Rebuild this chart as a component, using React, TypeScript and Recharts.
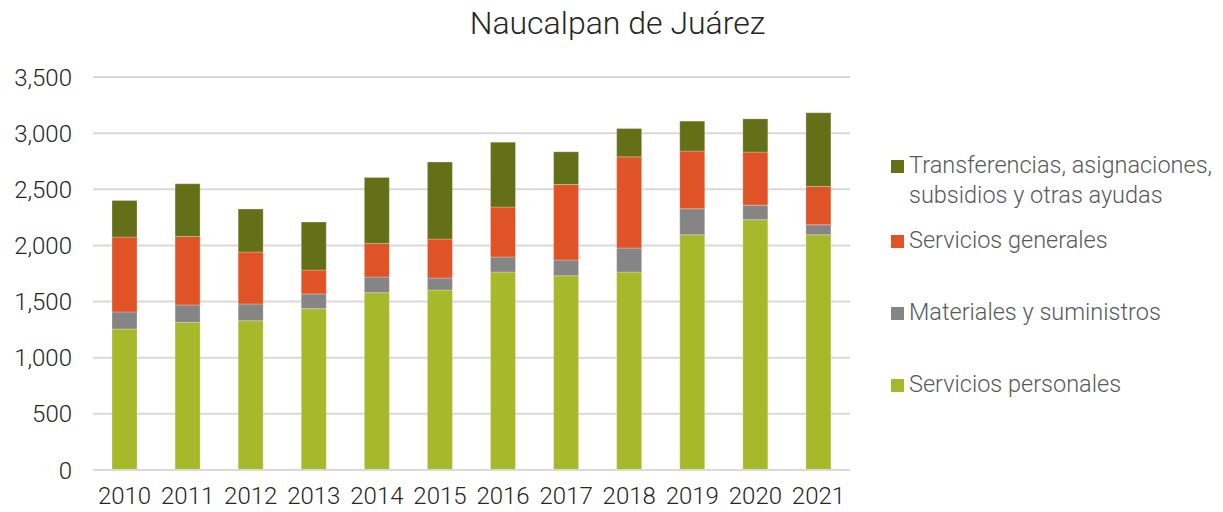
import { BarChart, Bar, XAxis, YAxis, CartesianGrid } from "recharts";

const years = ["2010", "2011", "2012", "2013", "2014", "2015", "2016", "2017", "2018", "2019", "2020", "2021"];
const serviciosPersonales = [1256, 1315, 1330, 1437, 1579, 1603, 1763, 1730, 1763, 2095, 2229, 2095];
const materiales = [152, 155, 149, 131, 140, 107, 134, 140, 214, 232, 130, 89];
const serviciosGenerales = [667, 610, 462, 213, 299, 347, 445, 673, 812, 513, 472, 341];
const transferencias = [325, 469, 383, 427, 587, 685, 578, 291, 252, 267, 296, 656];
const yTicks = [0, 500, 1000, 1500, 2000, 2500, 3000, 3500];

const SERIES = [
  { key: "sp", name: "Servicios personales", color: "#a7b82a" },
  { key: "ms", name: "Materiales y suministros", color: "#858585" },
  { key: "sg", name: "Servicios generales", color: "#e05326" },
  { key: "tr", name: "Transferencias, asignaciones, subsidios y otras ayudas", color: "#647017" },
];

const data = years.map((year, i) => ({
  year,
  sp: serviciosPersonales[i],
  ms: materiales[i],
  sg: serviciosGenerales[i],
  tr: transferencias[i],
}));

const FONT = "Roboto, 'Liberation Sans', Arial, sans-serif";

// legend entries listed top-down in reverse stacking order
const legendTops = [150, 225, 297, 369];

const LegendBox = () => {
  const items = [...SERIES].reverse();
  return (
    <div style={{ position: "absolute", left: 891, top: 0, width: 330, height: 512 }}>
      {items.map((s, i) => (
        <div
          key={s.key}
          style={{
            position: "absolute",
            left: 0,
            top: legendTops[i],
            display: "flex",
            alignItems: "flex-start",
            width: 332,
          }}
        >
          <div style={{ width: 13, height: 13, background: s.color, marginTop: 10, marginRight: 5, flexShrink: 0 }} />
          <span style={{ fontSize: 23.5, lineHeight: "30px", color: "#595959", fontFamily: FONT, fontWeight: 300, maxWidth: 314 }}>
            {s.name}
          </span>
        </div>
      ))}
    </div>
  );
};

export default function App() {
  return (
    <div style={{ position: "absolute", left: 0, top: 0, width: 1223, height: 512, background: "#fff" }}>
      <div
        style={{
          position: "absolute",
          left: 6,
          width: 1223,
          top: 4,
          textAlign: "center",
          fontFamily: FONT,
          fontWeight: 300,
          fontSize: 32,
          color: "#262626",
        }}
      >
        Naucalpan de Juárez
      </div>
      <BarChart
        width={1223}
        height={512}
        data={data}
        margin={{ top: 77, right: 373, bottom: 9, left: 0 }}
        barSize={25}
      >
        <CartesianGrid vertical={false} stroke="#d9d9d9" strokeWidth={2} />
        <XAxis
          dataKey="year"
          height={33}
          tickLine={false}
          axisLine={{ stroke: "#d9d9d9", strokeWidth: 2 }}
          tick={{ fontSize: 24, fill: "#262626", fontFamily: FONT, fontWeight: 300 }}
          tickMargin={11}
          interval={0}
        />
        <YAxis
          width={93}
          domain={[0, 3500]}
          ticks={yTicks}
          tickLine={false}
          axisLine={false}
          tickMargin={15}
          tickFormatter={(v: number) => v.toLocaleString("en-US")}
          tick={{ fontSize: 24, fill: "#262626", fontFamily: FONT, fontWeight: 300 }}
        />
        {SERIES.map((s) => (
          <Bar key={s.key} dataKey={s.key} name={s.name} stackId="a" fill={s.color} stroke="#ffffff" strokeOpacity={0.5} strokeWidth={0.5} isAnimationActive={false} />
        ))}
      </BarChart>
      <LegendBox />
    </div>
  );
}
